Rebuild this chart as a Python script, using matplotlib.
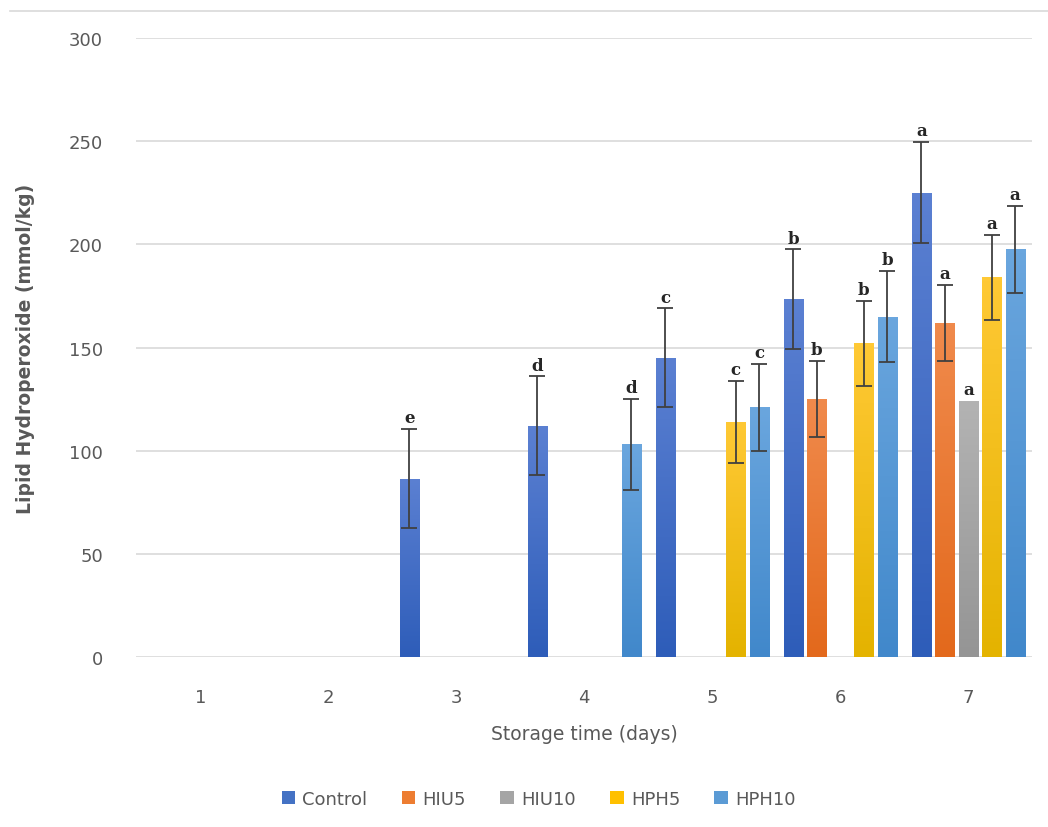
import numpy as np
import matplotlib
matplotlib.use("Agg")
from matplotlib import pyplot as plt
from matplotlib.patches import Patch
from matplotlib.lines import Line2D
from matplotlib.colors import LinearSegmentedColormap

plt.rcParams['font.family'] = ['DejaVu Sans']

#-----------------------------------------------------------------------------------#
## data
days = ["1", "2", "3", "4", "5", "6", "7"]
series = ["Control", "HIU5", "HIU10", "HPH5", "HPH10"]

nan = np.nan
control = [nan, nan, 86.5, 112, 145, 173.5, 225]
hiu5 = [nan, nan, nan, nan, nan, 125, 162]
hiu10 = [nan, nan, nan, nan, nan, nan, 124]
hph5 = [nan, nan, nan, nan, 114, 152, 184]
hph10 = [nan, nan, nan, 103, 121, 165, 197.5]

control_err = [0, 0, 24, 24, 24, 24, 24.5]
hiu5_err = [0, 0, 0, 0, 0, 18.5, 18.5]
hiu10_err = [0, 0, 0, 0, 0, 0, 0]
hph5_err = [0, 0, 0, 0, 20, 20.5, 20.5]
hph10_err = [0, 0, 0, 22, 21, 22, 21]

control_let = ["", "", "e", "d", "c", "b", "a"]
hiu5_let = ["", "", "", "", "", "b", "a"]
hiu10_let = ["", "", "", "", "", "", "a"]
hph5_let = ["", "", "", "", "c", "b", "a"]
hph10_let = ["", "", "", "d", "c", "b", "a"]

#-----------------------------------------------------------------------------------#
## style
values = [control, hiu5, hiu10, hph5, hph10]
errors = [control_err, hiu5_err, hiu10_err, hph5_err, hph10_err]
letters = [control_let, hiu5_let, hiu10_let, hph5_let, hph10_let]

base_cols = ["#4472c4", "#ed7d31", "#a5a5a5", "#ffc000", "#5b9bd5"]
top_cols = ["#5b80d2", "#f08a4c", "#b3b3b3", "#ffc935", "#6aa6de"]
bot_cols = ["#2e5db9", "#e3691c", "#959595", "#e4b300", "#4188cb"]

grey = "#595959"
grid_c = "#d9d9d9"

fig = plt.figure(figsize=(10.48, 8.28), dpi=100)
ax = fig.add_axes([0.130, 0.2053, 0.855, 0.7476])

x = np.arange(len(days))
step = 0.183
width = 0.149

for i, name in enumerate(series):
    pos = x + (i - 2) * step
    vals = np.array(values[i], dtype=float)
    bars = ax.bar(pos, vals, width, color=base_cols[i], zorder=2, linewidth=0)
    cmap = LinearSegmentedColormap.from_list(name, [bot_cols[i], top_cols[i]])
    for b in bars:
        h = b.get_height()
        if not np.isfinite(h) or h <= 0:
            continue
        grad = np.linspace(0, 1, 100).reshape(-1, 1)
        im = ax.imshow(grad, cmap=cmap, origin="lower", aspect="auto",
                       extent=(b.get_x(), b.get_x() + b.get_width(), 0, h),
                       zorder=2.5)
        im.set_clip_path(b)
    errs = np.array(errors[i], dtype=float)
    mask = np.isfinite(vals) & (errs > 0)
    ax.errorbar(pos[mask], vals[mask], yerr=errs[mask], fmt="none",
                ecolor="#404040", elinewidth=1.3, capsize=6, capthick=1.3,
                zorder=3)
    for j in range(len(days)):
        if letters[i][j]:
            ax.annotate(letters[i][j], (pos[j], vals[j] + errs[j]),
                        xytext=(0, 2), textcoords="offset points",
                        ha="center", va="bottom", fontsize=12,
                        family="DejaVu Serif", fontweight="bold",
                        color="#262626")

ax.set_xlim(-0.5, len(days) - 0.5)
ax.set_ylim(0, 300)
ax.set_yticks(np.arange(0, 301, 50))
ax.set_xticks(x)
ax.set_xticklabels(days)
ax.yaxis.grid(True, color=grid_c, linewidth=1.2, zorder=0)
ax.set_axisbelow(True)
for s in ax.spines.values():
    s.set_visible(False)
ax.tick_params(axis="both", length=0, labelsize=13, labelcolor=grey)
ax.tick_params(axis="y", pad=24)
ax.tick_params(axis="x", pad=22)

ax.set_xlabel("Storage time (days)", fontsize=13.5, color=grey, labelpad=13)
ax.set_ylabel("Lipid Hydroperoxide (mmol/kg)", fontsize=13.5, color=grey,
              fontweight="bold")
ax.yaxis.set_label_coords(-0.113, 0.5)

handles = [Patch(facecolor=c, edgecolor="none") for c in base_cols]
fig.legend(handles, series, loc="center", bbox_to_anchor=(0.514, 0.034),
           ncol=5, frameon=False, fontsize=13, labelcolor=grey,
           handlelength=0.75, handleheight=0.75, handletextpad=0.4,
           columnspacing=1.9)

# thin border line at top of chart area
fig.add_artist(Line2D([0.01, 1.0], [0.9855, 0.9855], color=grid_c,
                      linewidth=1.2, transform=fig.transFigure))

fig.savefig("out.png", dpi=100)
